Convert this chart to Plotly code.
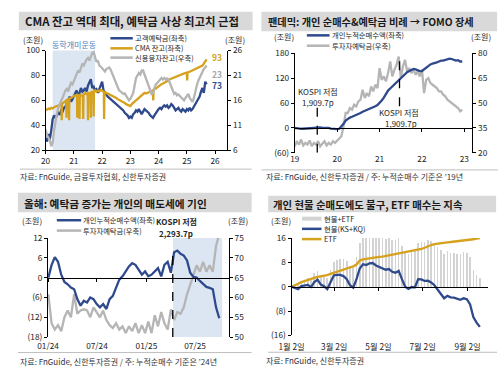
import numpy as np
import pandas as pd
import plotly.graph_objects as go

# ================= DATA =================
# Panel 1 : semi-monthly grid 2020.00 -> 2025.70 (step 0.05 yr)
p1_deposit = [30, 27, 33, 29, 36, 45, 48, 46, 48, 50, 49, 52, 51, 54, 55, 57, 60, 63, 59, 61,
              64, 66, 68, 63, 66, 70, 67, 68, 70, 67, 72, 74, 77, 70, 71, 68, 69, 66, 69, 73,
              75, 68, 66, 64, 63, 62, 61, 60, 59, 58, 57, 56, 55, 54, 53, 52, 50, 49, 48, 46,
              47, 46, 49, 50, 52, 51, 53, 51, 49, 51, 53, 52, 51, 50, 48, 47, 46, 48, 50, 51,
              53, 54, 53, 55, 56, 55, 56, 54, 55, 57, 56, 54, 52, 53, 54, 52, 51, 53, 52, 51,
              53, 52, 54, 52, 53, 55, 56, 58, 60, 63, 67, 70, 66, 75, 73]
p1_credit = [10.2, 9, 8.5, 8, 6.8, 7.5, 10, 12, 13.4, 14.5, 15.5, 16, 16.5, 17.5, 18, 18.3, 17.8, 18.8, 19.5, 19.2,
             20, 20.5, 21.5, 22, 21.6, 22.5, 23.4, 23, 23.8, 24.2, 24.5, 24, 24.8, 25.5, 25.7, 24.5, 23.7, 24, 23, 22.8,
             22.5, 22, 21.8, 22.3, 22.5, 22.6, 22.2, 21.5, 20.8, 20, 19.2, 18.5, 18, 17.8, 17.5, 17.3, 17.4, 17, 16.5, 16,
             16.3, 16.8, 17.5, 19, 20.5, 21, 21.5, 21.2, 22, 22, 21.2, 20.5, 19.8, 18.6, 18, 17.3, 17.5, 18.5, 19.2, 19.5,
             19.8, 20, 20.5, 20.2, 20.5, 20.2, 20.4, 20.2, 19.5, 18.8, 18, 17.3, 17.5, 17, 17.2, 16.8, 16.6, 16.3, 16, 16.5,
             17, 17.3, 16.5, 16, 15.7, 16.5, 18, 19, 19.9, 20.5, 21.3, 21.8, 22.3, 22.6, 23]
p1_cma_year = [20.00, 20.05, 20.10, 20.15, 20.20, 20.25, 20.30, 20.35, 20.40, 20.45, 20.50, 20.56, 20.57, 20.58,
               20.65, 20.73, 20.74, 20.75, 20.82, 20.83, 20.84, 20.90, 20.95, 21.00, 21.05, 21.11, 21.12, 21.13,
               21.19, 21.20, 21.21, 21.25, 21.32, 21.33, 21.34, 21.40, 21.45, 21.49, 21.50, 21.51, 21.55, 21.59,
               21.60, 21.61, 21.65, 21.69, 21.70, 21.71, 21.75, 21.80, 21.85, 21.90, 21.95, 22.00, 22.06, 22.07,
               22.08, 22.15, 22.20, 22.25, 22.30, 22.35, 22.40, 22.45, 22.50, 22.55, 22.60, 22.65, 22.70, 22.75,
               22.80, 22.85, 22.90, 22.95, 23.00, 23.05, 23.10, 23.15, 23.20, 23.25, 23.30, 23.35, 23.40, 23.45,
               23.50, 23.55, 23.60, 23.65, 23.70, 23.75, 23.80, 23.81, 23.82, 23.90, 23.95, 24.00, 24.05, 24.10,
               24.15, 24.20, 24.25, 24.30, 24.35, 24.40, 24.45, 24.50, 24.55, 24.60, 24.65, 24.70, 24.75, 24.80,
               24.85, 24.90, 24.95, 25.00, 25.01, 25.02, 25.10, 25.15, 25.20, 25.25, 25.30, 25.35, 25.40, 25.45,
               25.50, 25.55, 25.60, 25.65, 25.70]
p1_cma = [53, 52.5, 53.5, 53, 54, 53.5, 54.5, 55, 55.5, 56, 56.5, 57, 44, 57.5,
          58.5, 60, 46, 60.5, 61, 44, 61.5, 62, 63, 63.5, 64, 64, 46, 64.5,
          64, 45, 65, 64, 63.5, 45, 64.5, 66, 65, 65.5, 44, 66, 65.5, 66,
          46, 66.5, 67, 66.5, 47, 67, 68, 67, 68, 67, 68.5, 68, 67, 45,
          66.5, 66, 65.5, 65, 64.5, 64, 63, 62.5, 62, 61, 60.5, 60, 59, 58.5,
          58, 57, 56.5, 56, 55.5, 57, 58, 59, 60, 61, 62, 63, 64, 65,
          66, 65.5, 66, 67, 67.5, 68, 68, 60, 68.5, 69.5, 70.5, 71, 72, 73,
          73.5, 74, 75, 75.5, 76, 77, 77.5, 78, 78.5, 79, 79.5, 80, 80.5, 81,
          81, 81.5, 82, 82, 76, 82.5, 83, 83.5, 84, 84.5, 85, 85.5, 86, 86.5,
          87, 88, 89.5, 91, 93]
p1_xticks = [20, 21, 22, 23, 24, 25, 26]
p1_shade = [20.25, 21.75]

# Panel 2 : grid 2019.00 -> 2022.95 (step 0.05 yr)
p2_net_buy = [0, -1, -1.5, -2, -2, -1.5, -2.5, -2, -1, 0, 1, 0.5, 1, 0, 0.5, -0.5, 0, -1.5, -2, -3,
              -3, -2, 3, 10, 18, 22, 25, 27, 29, 31, 33, 36, 39, 41, 43, 45, 47, 50, 52, 55,
              60, 66, 73, 82, 90, 95, 100, 105, 109, 115, 120, 124, 130, 134, 137, 140, 142, 141, 138, 137,
              137, 141, 146, 150, 153, 155, 156, 158, 160, 162, 162, 164, 165, 167, 166, 164, 162, 163, 160, 160]
p2_deposit = [24, 27, 25, 28, 24.5, 26, 25, 27.5, 24, 26, 25, 27, 24, 25.5, 27, 24.5, 26, 25, 27, 26,
              27.5, 29, 30, 36, 44, 44, 47, 46, 49, 48, 51, 52, 58, 53, 56, 54, 60, 57, 61, 59,
              71, 64, 66, 63, 68, 75, 66, 70, 73, 78, 65, 72, 76, 69, 71, 68, 70, 67, 69, 66,
              70, 56, 64, 65, 62, 61, 60, 59, 57, 57, 55, 54, 52, 51, 50, 49, 48, 47, 45, 46]
p2_xticks = [19, 20, 21, 22, 23]
p2_kospi_low = [19.53, 21.47]

# Panel 3 : 12-day grid from 2024-01-02
p3_net_buy = [0, 3.8, 6.2, 4.8, 0.9, -1.3, -2, -3, -3.5, -6.5, -8.5, -7, -7.5, -6, -6.5, -8, -9, -8,
              -9.5, -6.5, -5.5, -3.1, -0.6, 0.4, 1.9, 3.4, 4.4, 3.9, 2.4, 0.9, 1.9, 0.4, 0.9, 1.9, 2.9, 0.4,
              3.9, 4.8, 1.5, 7.7, 8.2, 7.2, 6.7, 5.2, 1.5, 0.2, 0, -1, -2, -2.8, -3.1, -3.5, -9, -12.3]
p3_deposit = [60.8, 53.5, 51.9, 53, 51.5, 55, 56.7, 55, 60.8, 55.9, 56.7, 57, 56.7, 55, 57.5, 56.3, 55, 56.7,
              54.3, 53, 52.3, 53.5, 51.9, 52.7, 51, 52.7, 51.5, 53.5, 51, 53, 51, 53.9, 51, 55.5, 52.7, 56.3,
              53.5, 51.9, 57, 54.3, 56.3, 55.9, 57.5, 60.8, 63.2, 65.7, 68.1, 66.5, 69, 66.5, 68.1, 66.5, 73, 76]
p3_tickdates = ["2024-01-01", "2024-07-01", "2025-01-01", "2025-07-01"]
p3_ticktext = ["01/24", "07/24", "01/25", "07/25"]
p3_kospi_low = "2025-04-09"
p3_shade = ["2025-04-10", "2025-10-10"]

# Panel 4 : ~4.5-day grid from 2025-01-02
p4_spot_etf = [0.3, 0.5, 0.5, 1.5, 2, 3, 2.5, 4.5, 5.3, 4,
               3.7, 3, 5.5, 8.2, 8.8, 9.1, 9.2, 8.6, 6.8, 6.3,
               9.8, 14.5, 16.3, 16.2, 16.8, 17, 16.6, 16.4, 16, 15.7,
               16, 15.3, 15.2, 16, 13.5, 11.2, 10.7, 11.5, 11.6, 14.4,
               14.8, 14.6, 15.3, 15.1, 14.5, 13.2, 12.2, 10.7, 11.6, 11.2,
               11.2, 10.9, 10.7, 11.4, 11.2, 9.7, 5.6, 4, 2.8]
p4_spot = [0, -0.4, -0.8, 0.2, 0.3, 0.6, -0.1, 1.5, 2.3, 0.7,
           0.2, -0.8, 1.5, 3.7, 3.9, 3.9, 3.5, 2.5, 0.5, -0.3,
           2.5, 6, 7.4, 7.1, 7.7, 7.8, 7, 6.6, 6.2, 5.6,
           5.8, 4.9, 4.6, 5.2, 2.5, 0, -0.7, -0.1, -0.2, 2.5,
           2.4, 1.9, 2, 1.4, 0.5, -1, -2.2, -3.8, -3, -3.5,
           -3.6, -4, -4.3, -3.8, -4.1, -5.8, -10, -11.8, -13.2]
p4_etf = [0, 0.6, 1, 1.5, 1.9, 2.3, 2.5, 2.9, 3.2, 3.4,
          3.5, 3.8, 4.2, 4.5, 4.9, 5.2, 5.6, 6, 6.3, 6.7,
          7.3, 8.6, 9, 9.2, 9.4, 9.5, 9.7, 9.8, 9.9, 10.1,
          10.3, 10.5, 10.6, 10.8, 11, 11.2, 11.4, 11.6, 11.8, 12.1,
          12.4, 12.8, 13.3, 13.7, 14, 14.2, 14.4, 14.5, 14.6, 14.7,
          14.8, 14.9, 15, 15.2, 15.3, 15.5, 15.6, 15.8, 16]
p4_tickdates = ["2025-01-02", "2025-03-02", "2025-05-02", "2025-07-02", "2025-09-02"]
p4_ticktext = ["1월 2일", "3월 2일", "5월 2일", "7월 2일", "9월 2일"]

# ================= STYLE / HELPERS =================
W, H = 500, 374
FONT = "Noto Sans CJK KR"
NAVY = "#2E4A8C"
GOLD = "#D6A11C"
GRAY = "#B5B5B5"
BARGRAY = "#D3D3D3"
SHADE = "#DCE6F2"
TXT = "#262626"


def fx(px):
    return px / W


def fy(py):
    return 1 - py / H


p1_year = np.round(20 + 0.05 * np.arange(len(p1_deposit)), 2)
p2_year = np.round(19 + 0.05 * np.arange(len(p2_net_buy)), 2)
p3_dates = pd.Timestamp("2024-01-02") + pd.to_timedelta(12 * np.arange(len(p3_net_buy)), unit="D")
p4_dates = pd.Timestamp("2025-01-02") + pd.to_timedelta(np.arange(len(p4_spot)) * 4.482, unit="D")

fig = go.Figure()
LW = 2.3

# Panel 1
fig.add_trace(go.Scatter(x=p1_year, y=p1_deposit, mode="lines", line=dict(color=NAVY, width=LW), xaxis="x", yaxis="y"))
fig.add_trace(go.Scatter(x=p1_cma_year, y=p1_cma, mode="lines", line=dict(color=GOLD, width=LW), xaxis="x", yaxis="y"))
fig.add_trace(go.Scatter(x=p1_year, y=p1_credit, mode="lines", line=dict(color=GRAY, width=LW), xaxis="x", yaxis="y2"))

# Panel 2
fig.add_trace(go.Scatter(x=p2_year, y=p2_deposit, mode="lines", line=dict(color=GRAY, width=LW), xaxis="x2", yaxis="y4"))
fig.add_trace(go.Scatter(x=p2_year, y=p2_net_buy, mode="lines", line=dict(color=NAVY, width=LW), xaxis="x2", yaxis="y3"))
fig.add_trace(go.Scatter(x=[], y=[], mode="lines", xaxis="x5", yaxis="y4"))

# Panel 3
fig.add_trace(go.Scatter(x=p3_dates, y=p3_deposit, mode="lines", line=dict(color=GRAY, width=LW), xaxis="x3", yaxis="y6"))
fig.add_trace(go.Scatter(x=p3_dates, y=p3_net_buy, mode="lines", line=dict(color=NAVY, width=LW), xaxis="x3", yaxis="y5"))
fig.add_trace(go.Scatter(x=[], y=[], mode="lines", xaxis="x6", yaxis="y6"))

# Panel 4
fig.add_trace(go.Bar(x=p4_dates, y=p4_spot_etf, marker=dict(color=BARGRAY, line=dict(width=0)),
                     width=2.2 * 86400000, xaxis="x4", yaxis="y7"))
fig.add_trace(go.Scatter(x=p4_dates, y=p4_etf, mode="lines", line=dict(color=GOLD, width=LW), xaxis="x4", yaxis="y7"))
fig.add_trace(go.Scatter(x=p4_dates, y=p4_spot, mode="lines", line=dict(color=NAVY, width=LW), xaxis="x4", yaxis="y7"))
fig.add_trace(go.Scatter(x=[], y=[], mode="lines", xaxis="x7", yaxis="y7"))

TICKFONT = dict(family=FONT, size=8.3, color=TXT)


def ax(**kw):
    d = dict(showgrid=False, zeroline=False, showline=True, linecolor="black", linewidth=1,
             ticks="outside", ticklen=3, tickwidth=1, tickcolor="black", tickfont=TICKFONT, fixedrange=True)
    d.update(kw)
    return d


def bottom_labels(**kw):
    d = dict(showgrid=False, zeroline=False, showline=False, ticks="", tickfont=TICKFONT, fixedrange=True)
    d.update(kw)
    return d


def zero_axis(**kw):
    d = dict(showgrid=False, zeroline=False, showline=True, linecolor="black", linewidth=1,
             ticks="outside", ticklen=3, tickwidth=1, tickcolor="black", showticklabels=False,
             anchor="free", fixedrange=True)
    d.update(kw)
    return d


# domains
d1x = [fx(33.5), fx(220)]
d1y = [fy(148), fy(45)]
d2x = [fx(289.3), fx(471.7)]
d2y = [fy(150.7), fy(47.7)]
d3x = [fx(36), fx(221.7)]
d3y = [fy(341), fy(238.7)]
d4x = [fx(286), fx(487.3)]
d4y = [fy(339.3), fy(238.7)]

p2_range_l = [-60, 180]
p3_range_l = [-18, 12]
p4_range = [-16, 16]
z2 = d2y[0] + (0 - p2_range_l[0]) / (p2_range_l[1] - p2_range_l[0]) * (d2y[1] - d2y[0])
z3 = d3y[0] + (0 - p3_range_l[0]) / (p3_range_l[1] - p3_range_l[0]) * (d3y[1] - d3y[0])
z4 = d4y[0] + (0 - p4_range[0]) / (p4_range[1] - p4_range[0]) * (d4y[1] - d4y[0])

p2_xrange = [19, 23.19]
p3_xrange = ["2024-01-01", "2025-11-04"]
p4_xrange = ["2025-01-02", "2025-09-29 17:00"]

fig.update_layout(
    xaxis=ax(domain=d1x, range=[20, 26.43], anchor="y", tickvals=p1_xticks, ticktext=[str(v) for v in p1_xticks]),
    yaxis=ax(domain=d1y, range=[20, 100], anchor="x", tickvals=[20, 40, 60, 80, 100]),
    yaxis2=ax(overlaying="y", side="right", anchor="x", range=[6, 26], tickvals=[6, 11, 16, 21, 26]),

    xaxis2=bottom_labels(domain=d2x, range=p2_xrange, anchor="y4", tickvals=p2_xticks,
                         ticktext=[str(v) for v in p2_xticks]),
    yaxis4=ax(domain=d2y, side="right", anchor="x2", range=[20, 80], tickvals=[20, 35, 50, 65, 80]),
    yaxis3=ax(overlaying="y4", side="left", anchor="x2", range=p2_range_l, tickvals=[-60, 0, 60, 120, 180],
              ticktext=["(60)", "0", "60", "120", "180"]),
    xaxis5=zero_axis(overlaying="x2", position=z2, range=p2_xrange, tickvals=p2_xticks),

    xaxis3=bottom_labels(domain=d3x, type="date", range=p3_xrange, anchor="y6", tickvals=p3_tickdates,
                         ticktext=p3_ticktext, ticklabelstandoff=3),
    yaxis6=ax(domain=d3y, side="right", anchor="x3", range=[50, 75], tickvals=[50, 55, 60, 65, 70, 75]),
    yaxis5=ax(overlaying="y6", side="left", anchor="x3", range=p3_range_l, tickvals=[-18, -12, -6, 0, 6, 12],
              ticktext=["(18)", "(12)", "(6)", "0", "6", "12"]),
    xaxis6=zero_axis(overlaying="x3", type="date", position=z3, range=p3_xrange, tickvals=p3_tickdates),

    xaxis4=bottom_labels(domain=d4x, type="date", range=p4_xrange, anchor="y7", tickvals=p4_tickdates,
                         ticktext=p4_ticktext, ticklabelstandoff=5),
    yaxis7=ax(domain=d4y, anchor="x4", range=p4_range, tickvals=[-16, -8, 0, 8, 16],
              ticktext=["(16)", "(8)", "0", "8", "16"]),
    xaxis7=zero_axis(overlaying="x4", type="date", position=z4, range=p4_xrange, tickvals=p4_tickdates),
)

shapes = []


def prect(x0, y0, x1, y1, color):
    shapes.append(dict(type="rect", xref="paper", yref="paper", x0=fx(x0), x1=fx(x1), y0=fy(y1), y1=fy(y0),
                       fillcolor=color, line=dict(width=0), layer="below"))


def pline(x0, y0, x1, y1, color, width):
    shapes.append(dict(type="line", xref="paper", yref="paper", x0=fx(x0), x1=fx(x1), y0=fy(y0), y1=fy(y1),
                       line=dict(color=color, width=width)))


# title bars
prect(6, 5, 246, 24, "#D9D9D9")
prect(255, 5, 497, 25, "#D9D9D9")
prect(5, 192, 245, 212, "#D9D9D9")
prect(262, 195, 496, 212, "#D9D9D9")
# separators
pline(7, 167.5, 245, 167.5, "#BFBFBF", 1)
pline(255, 168.3, 498, 168.3, "#BFBFBF", 1)
pline(5, 357, 245, 357, "#BFBFBF", 1)
pline(262, 356.7, 497, 356.7, "#BFBFBF", 1)

# shaded periods
shapes.append(dict(type="rect", xref="x", yref="y domain", x0=p1_shade[0], x1=p1_shade[1], y0=0, y1=1,
                   fillcolor=SHADE, line=dict(width=0), layer="below"))
shapes.append(dict(type="rect", xref="x3", yref="y6 domain", x0=p3_shade[0], x1=p3_shade[1], y0=0, y1=1,
                   fillcolor=SHADE, line=dict(width=0), layer="below"))
# KOSPI low dashed lines
shapes.append(dict(type="line", xref="x2", yref="y3", x0=p2_kospi_low[0], x1=p2_kospi_low[0], y0=-60, y1=52,
                   line=dict(color="black", width=1.3, dash="dash")))
shapes.append(dict(type="line", xref="x2", yref="y3", x0=p2_kospi_low[1], x1=p2_kospi_low[1], y0=52, y1=180,
                   line=dict(color="black", width=1.3, dash="dash")))
shapes.append(dict(type="line", xref="x3", yref="y5", x0=p3_kospi_low, x1=p3_kospi_low, y0=-18, y1=7.8,
                   line=dict(color="black", width=1.3, dash="dash")))

# legend samples
for yy, c in zip([32.3, 42.7, 52.3], [NAVY, GOLD, GRAY]):
    pline(100, yy, 123, yy, c, 2.5)
for yy, c in zip([29.3, 40], [NAVY, GRAY]):
    pline(301.7, yy, 325, yy, c, 2.5)
for yy, c in zip([220.3, 231], [NAVY, GRAY]):
    pline(45, yy, 70, yy, c, 2.5)
pline(296.7, 218.7, 316.7, 218.7, BARGRAY, 4)
pline(296.7, 229.2, 316.7, 229.2, NAVY, 2.5)
pline(296.7, 239.8, 316.7, 239.8, GOLD, 2.5)

annotations = []


def ann(text, x, y, size=8, color=TXT, xanchor="left", weight="normal"):
    annotations.append(dict(text=text, x=fx(x), y=fy(y), xref="paper", yref="paper", xanchor=xanchor,
                            yanchor="middle", showarrow=False, borderpad=0,
                            font=dict(family=FONT, size=size, color=color, weight=weight)))


# titles
ann("CMA 잔고 역대 최대, 예탁금 사상 최고치 근접", 11, 14.5, size=11.4, color="#1A1A1A", weight="bold")
ann("팬데믹: 개인 순매수&amp;예탁금 비례 → FOMO 장세", 260.5, 15, size=10.2, color="#1A1A1A", weight="bold")
ann("올해: 예탁금 증가는 개인의 매도세에 기인", 10.5, 202.5, size=10.7, color="#1A1A1A", weight="bold")
ann("개인 현물 순매도에도 불구, ETF 매수는 지속", 265.5, 204, size=10.4, color="#1A1A1A", weight="bold")

# unit labels
ann("(조원)", 21, 34, xanchor="center")
ann("(조원)", 228, 34, xanchor="center")
ann("(조원)", 278, 30.7, xanchor="center")
ann("(조원)", 480, 30.7, xanchor="center")
ann("(조원)", 20, 221, xanchor="center")
ann("(조원)", 230.5, 221, xanchor="center")
ann("(조원)", 275, 220.3, xanchor="center")

# legends
for t, yy in zip(["고객예탁금(좌축)", "CMA 잔고(좌축)", "신용융자잔고(우축)"], [32.3, 42.7, 52.3]):
    ann(t, 124.5, yy, size=7.3)
for t, yy in zip(["개인누적순매수액(좌축)", "투자자예탁금(우축)"], [29.3, 40]):
    ann(t, 326, yy, size=7.3)
for t, yy in zip(["개인누적순매수액(좌축)", "투자자예탁금(우축)"], [220.3, 231]):
    ann(t, 70.5, yy, size=7.3)
for t, yy in zip(["현물+ETF", "현물(KS+KQ)", "ETF"], [218.7, 229.2, 239.8]):
    ann(t, 318.5, yy, size=7.3)

# panel-specific labels
ann("동학개미운동", 62.5, 38.3, size=8, color="#4F81BD", xanchor="center")
ann("93", 209, 51.7, size=8.5, color=GOLD, xanchor="center", weight="bold")
ann("23", 209, 69.5, size=8.5, color="#A6A6A6", xanchor="center", weight="bold")
ann("73", 209, 81, size=8.5, color=NAVY, xanchor="center", weight="bold")

ann("KOSPI 저점", 313, 87.3, xanchor="center")
ann("1,909.7p", 313, 99, xanchor="center")
ann("KOSPI 저점", 396.7, 109.3, xanchor="center")
ann("1,909.7p", 398, 120.7, xanchor="center")
ann("KOSPI 저점", 167.5, 222, xanchor="center", weight="bold")
ann("2,293.7p", 167, 233.7, xanchor="center", weight="bold")

# sources
ann("자료: FnGuide, 금융투자협회, 신한투자증권", 6, 175.5, size=8, color="#333333")
ann("자료: FnGuide, 신한투자증권 / 주: 누적순매수 기준은 ’19년", 259, 175, size=8, color="#333333")
ann("자료: FnGuide, 신한투자증권 / 주: 누적순매수 기준은 ’24년", 6, 366, size=8, color="#333333")
ann("자료: FnGuide, 신한투자증권", 259, 365, size=8, color="#333333")

fig.update_layout(
    width=W, height=H, margin=dict(l=0, r=0, t=0, b=0),
    paper_bgcolor="white", plot_bgcolor="white",
    showlegend=False, hovermode=False, bargap=0,
    font=dict(family=FONT, size=8.5, color=TXT),
    shapes=shapes, annotations=annotations,
)

fig.write_html("out.html", config={"displayModeBar": False, "staticPlot": True},
               post_script="document.body.style.margin='0px';document.body.style.overflow='hidden';")
